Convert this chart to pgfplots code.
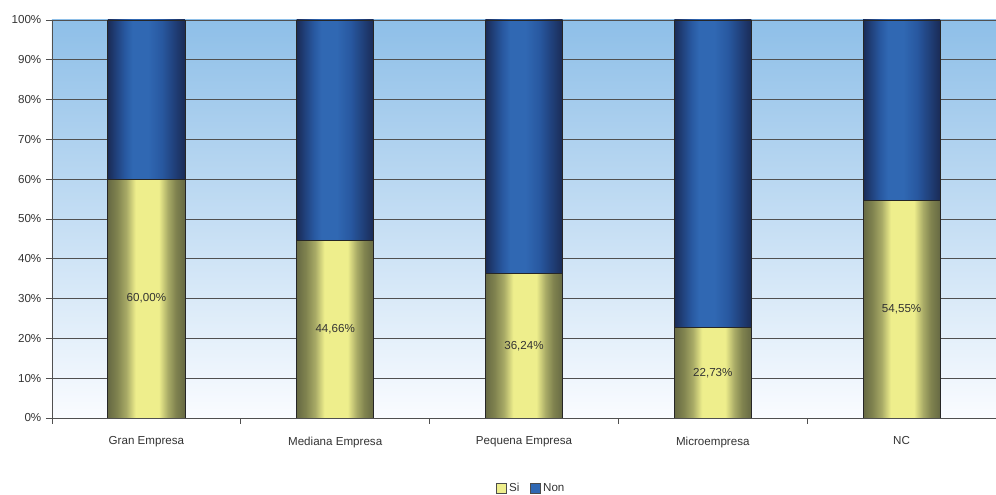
\documentclass[border=0pt]{standalone}
\usepackage{fontspec}
\setmainfont{Liberation Sans}
\usepackage{pgfplots}
\usepackage{pgfplotstable}
\pgfplotsset{compat=1.18}

\definecolor{bgTop}{HTML}{8EBFE8}
\definecolor{bgBot}{HTML}{FAFCFF}
\definecolor{siDark}{HTML}{666943}
\definecolor{siDark2}{HTML}{80834F}
\definecolor{siMid}{HTML}{A8AA66}
\definecolor{siLight}{HTML}{EEEE8C}
\definecolor{nonDark}{HTML}{1A2B56}
\definecolor{nonDark2}{HTML}{20407A}
\definecolor{nonMid}{HTML}{2858A0}
\definecolor{nonLight}{HTML}{3068B3}
\definecolor{gridgray}{HTML}{505050}
\definecolor{txt}{HTML}{333333}

% bars: dark at both edges, light a little left of the middle
% (the part from 25bp to 75bp covers the bar)
\pgfdeclarehorizontalshading{siShade}{100bp}{color(0bp)=(siDark); color(25bp)=(siDark);
  color(31bp)=(siDark2); color(37bp)=(siMid); color(43bp)=(siLight); color(58bp)=(siLight);
  color(64bp)=(siMid); color(69bp)=(siDark2); color(75bp)=(siDark); color(100bp)=(siDark)}
\pgfdeclarehorizontalshading{nonShade}{100bp}{color(0bp)=(nonDark); color(25bp)=(nonDark);
  color(30bp)=(nonDark2); color(36bp)=(nonMid); color(41bp)=(nonLight); color(51bp)=(nonLight);
  color(60bp)=(nonMid); color(68bp)=(nonDark2); color(75bp)=(nonDark); color(100bp)=(nonDark)}

\newcommand{\lbl}{\fontsize{8.7pt}{10pt}\selectfont}

\pgfplotstableread{
x Si Non
0 60.00 40.00
1 44.66 55.34
2 36.24 63.76
3 22.73 77.27
4 54.55 45.45
}\data

\pgfplotsset{barline/.style={draw=black!85, line width=0.6pt, bar shift=0pt, forget plot, shade}}

\begin{document}
\begin{tikzpicture}
\begin{axis}[
  name=ax, at={(0,0)}, anchor=south west,
  scale only axis, width=708pt, height=298.5pt,
  xmin=-0.5, xmax=4.5, ymin=0, ymax=100,
  ybar, bar width=0.408,
  axis x line*=bottom, axis y line*=left,
  axis line style={gridgray, line width=0.7pt},
  axis background/.style={shade, top color=bgTop, bottom color=bgBot},
  xtick={0,...,4},
  xticklabels={Gran Empresa, Mediana Empresa, Pequena Empresa, Microempresa, NC},
  major x tick style={draw=none},
  minor xtick={-0.5,0.5,1.5,2.5,3.5,4.5},
  minor x tick style={gridgray, line width=0.7pt},
  minor tick length=4.5pt, major tick length=4.5pt,
  tick align=outside,
  ytick={0,10,...,100},
  y tick style={gridgray, line width=0.7pt},
  ymajorgrids, grid style={gridgray, line width=0.6pt},
  yticklabel={\pgfmathprintnumber{\tick}\%},
  /pgf/number format/assume math mode=true,
  tick label style={font=\lbl, text=txt},
  xticklabel style={yshift=-6pt},
  legend columns=2,
  legend style={draw=none, fill=none, at={(0.508,-0.176)}, anchor=center, font=\lbl, text=txt,
    /tikz/every even column/.append style={column sep=6pt}},
  legend image code/.code={\draw[#1] (0pt,-3.7pt) rectangle (7.4pt,3.7pt);},
]
% one plot per bar, so that each bar gets its own shading;
% the Non bar runs from 0 to Si+Non and the Si bar is drawn over it
\pgfplotsinvokeforeach{0,...,4}{
  \addplot[barline, shading=nonShade, restrict x to domain=#1:#1]
    table[x=x, y expr=\thisrow{Si}+\thisrow{Non}] {\data};
  \addplot[barline, shading=siShade, restrict x to domain=#1:#1]
    table[x=x, y=Si] {\data};
}
% value labels in the middle of the Si part
\addplot[sharp plot, draw=none, mark=none, forget plot, bar shift=0pt,
  point meta=explicit,
  nodes near coords={\pgfmathprintnumber[fixed,fixed zerofill,precision=2,use comma]{\pgfplotspointmeta}\%},
  every node near coord/.append style={anchor=center, font=\lbl, text=txt}]
  table[x=x, y expr=\thisrow{Si}/2, meta=Si] {\data};
\addlegendimage{fill=siLight, draw=black!70}
\addlegendentry{Si}
\addlegendimage{fill=nonLight, draw=black!70}
\addlegendentry{Non}
\end{axis}
\pgfresetboundingbox
\path (-39pt,-57.75pt) rectangle (708pt,313.5pt);
\end{tikzpicture}
\end{document}
